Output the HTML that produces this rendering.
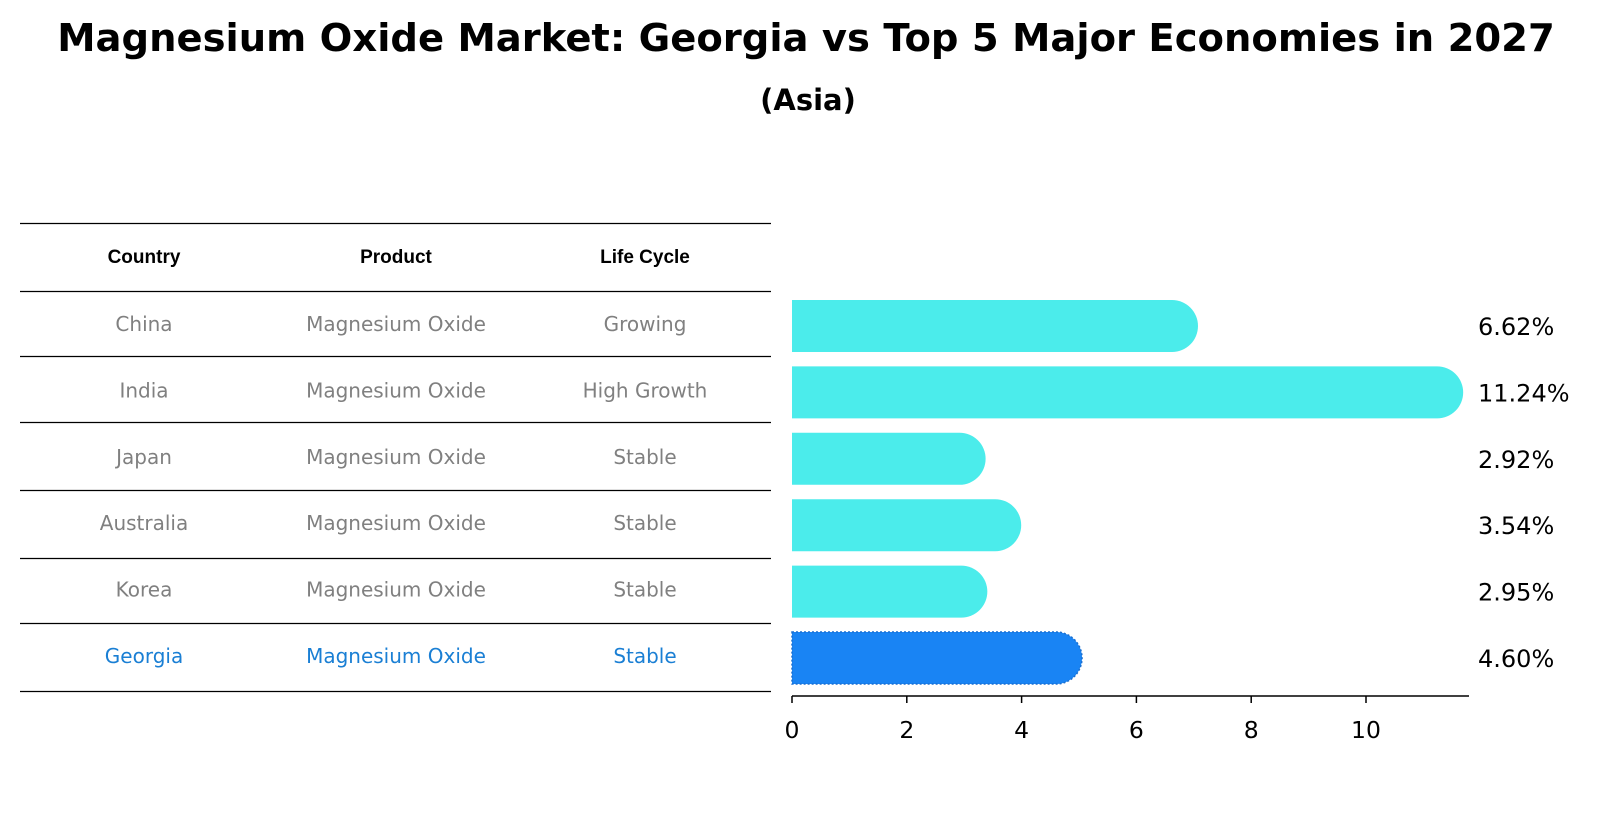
<!DOCTYPE html>
<html><head><meta charset="utf-8"><style>
body{margin:0;background:#fff;font-family:"Liberation Sans","DejaVu Sans",sans-serif}
</style></head><body>
<svg width="1604" height="823" xmlns="http://www.w3.org/2000/svg">
<text x="806" y="51" text-anchor="middle" font-size="38.5" font-weight="bold" font-family="DejaVu Sans, Liberation Sans, sans-serif">Magnesium Oxide Market: Georgia vs Top 5 Major Economies in 2027</text>
<text x="808" y="110" text-anchor="middle" font-size="29" font-weight="bold" font-family="DejaVu Sans, Liberation Sans, sans-serif">(Asia)</text>
<g id="table"></g>
<g id="bars"></g>
</svg>
<script>
const countries=["China","India","Japan","Australia","Korea","Georgia"];
const products=["Magnesium Oxide","Magnesium Oxide","Magnesium Oxide","Magnesium Oxide","Magnesium Oxide","Magnesium Oxide"];
const lifeCycles=["Growing","High Growth","Stable","Stable","Stable","Stable"];
const values=[6.62,11.24,2.92,3.54,2.95,4.60];
const ticks=[0,2,4,6,8,10];
const NS="http://www.w3.org/2000/svg";
function mk(tag,attrs,parent,text){const e=document.createElementNS(NS,tag);for(const k in attrs)e.setAttribute(k,attrs[k]);if(text!==undefined)e.textContent=text;parent.appendChild(e);return e;}
const tbl=document.getElementById('table');
const lineYs=[223,291,356,422,490,558,623,691];
lineYs.forEach(y=>{const l=mk('line',{x1:20,x2:771,y1:y+0.5,y2:y+0.5,stroke:'#000','stroke-width':1.2},tbl);

});
const colX=[144,396,645];
["Country","Product","Life Cycle"].forEach((h,i)=>{const t=mk('text',{x:colX[i],y:263,'text-anchor':'middle','font-size':19,'font-weight':'bold','font-family':'Liberation Sans, DejaVu Sans, sans-serif'},tbl,h);

});
function rowY(i){return 323+i*66.4;}
countries.forEach((c,i)=>{const col=c==="Georgia"?"#1a7fd4":"#808080";
[c,products[i],lifeCycles[i]].forEach((v,j)=>{const t=mk('text',{x:colX[j],y:rowY(i)+8,'text-anchor':'middle','font-size':20,fill:col,'font-family':'DejaVu Sans, Liberation Sans, sans-serif','textLength':''},tbl,v);
t.removeAttribute('textLength');

});});
const g=document.getElementById('bars');
const x0=792,scale=57.4,bh=52;
function xs(v){return x0+v*scale;}
values.forEach((v,i)=>{const cy=rowY(i)+3;const geo=countries[i]==="Georgia";
const w=xs(v)-x0;
const p=mk('path',{d:`M${x0},${cy-bh/2} H${x0+w} A${bh/2},${bh/2} 0 0 1 ${x0+w},${cy+bh/2} H${x0} Z`,fill:geo?'#1984f4':'#4beceb',stroke:geo?'#1a6fd0':'none','stroke-dasharray':geo?'2 2':'none','stroke-width':geo?1.5:0},g);


const t=mk('text',{x:1478,y:cy+9,'font-size':24,'font-family':'DejaVu Sans, Liberation Sans, sans-serif'},g,v.toFixed(2)+'%');

});
const ax=mk('line',{x1:x0,x2:1469,y1:696,y2:696,stroke:'#000','stroke-width':1.5},g);


ticks.forEach(t=>{const l=mk('line',{x1:xs(t),x2:xs(t),y1:696,y2:703,stroke:'#000','stroke-width':1.5},g);


const tx=mk('text',{x:xs(t),y:738,'text-anchor':'middle','font-size':23.5,'font-family':'DejaVu Sans, Liberation Sans, sans-serif'},g,String(t));

});
</script>
</body></html>
